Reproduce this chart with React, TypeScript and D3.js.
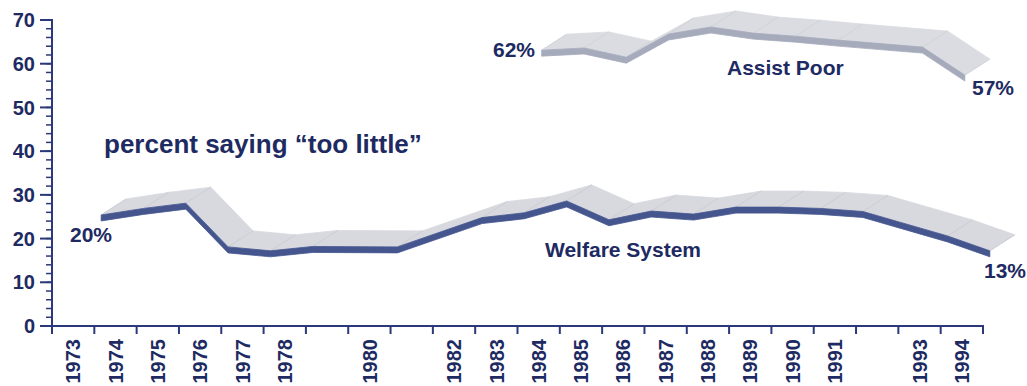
import React from "react";
import * as d3 from "d3";

// ---- data ----
const years = [1973, 1974, 1975, 1976, 1977, 1978, 1979, 1980, 1981, 1982, 1983, 1984, 1985, 1986, 1987, 1988, 1989, 1990, 1991, 1992, 1993, 1994];
const yearLabels = ["1973", "1974", "1975", "1976", "1977", "1978", "", "1980", "", "1982", "1983", "1984", "1985", "1986", "1987", "1988", "1989", "1990", "1991", "", "1993", "1994"];
const yTicks = [0, 10, 20, 30, 40, 50, 60, 70];
const yMinorTicks = d3.range(0, 71, 2);

const welfareYears = [1973, 1974, 1975, 1976, 1977, 1978, 1980, 1982, 1983, 1984, 1985, 1986, 1987, 1988, 1989, 1990, 1991, 1993, 1994];
const welfareValues = [25.4, 26.9, 28.1, 18.1, 17.2, 18.2, 18.1, 24.8, 25.9, 28.6, 24.3, 26.3, 25.6, 27.2, 27.2, 26.9, 26.2, 20.6, 17.2];

const assistYears = [1984, 1985, 1986, 1987, 1988, 1989, 1990, 1991, 1993, 1994];
const assistValues = [63.1, 63.6, 61.5, 66.8, 68.4, 67.0, 66.3, 65.4, 63.8, 57.4];

// ---- style ----
const W = 1027;
const H = 386;
const FONT = "'Liberation Sans', Arial, Helvetica, sans-serif";
const TEXT = "#1e2a62";
const AXIS = "#2b387a";
const DX = 25;
const DY = -16;

const x = d3.scaleBand<number>().domain(years).range([52, 983]).padding(0);
const y = d3.scaleLinear().domain([0, 70]).range([326, 20]);

type P = [number, number];

function Ribbon({ yrs, vals, shift, thick, face, top, seam }: { yrs: number[]; vals: number[]; shift: number; thick: number; face: string; top: string; seam: string }) {
  const front: P[] = yrs.map((yr, i) => [(x(yr) as number) + x.bandwidth() / 2 + shift, y(vals[i])]);
  const back: P[] = front.map(([px, py]) => [px + DX, py + DY]);
  const bottom: P[] = front.map(([px, py]) => [px, py + thick]);
  const quads = front.slice(0, -1).map((p, i) => [p, front[i + 1], back[i + 1], back[i]] as P[]);
  const facePoly = [...front, ...bottom.slice().reverse()];
  const line = d3.line();
  return (
    <g>
      {quads.map((q, i) => (
        <path key={"q" + i} d={line(q) + "Z"} fill={top} stroke={top} strokeWidth={0.8} />
      ))}
      {front.map((p, i) => (
        <line key={"s" + i} x1={p[0]} y1={p[1]} x2={back[i][0]} y2={back[i][1]} stroke={seam} strokeWidth={0.8} />
      ))}
      <path d={line(facePoly) + "Z"} fill={face} stroke={face} strokeWidth={0.8} />
    </g>
  );
}

export default function App() {
  const bw = x.bandwidth();
  const tickXs = [...years.map((yr) => x(yr) as number), (x(years[years.length - 1]) as number) + bw];
  return (
    <svg width={W} height={H} style={{ position: "absolute", left: 0, top: 0, background: "#fff" }} fontFamily={FONT}>
      <rect width={W} height={H} fill="#fff" />
      {/* ribbons */}
      <Ribbon yrs={assistYears} vals={assistValues} shift={3} thick={6} face="#a6abbc" top="#dbdce1" seam="#cdcfd6" />
      <Ribbon yrs={welfareYears} vals={welfareValues} shift={28} thick={6} face="#45568f" top="#d8d9df" seam="#c6c8d1" />

      {/* y axis */}
      <line x1={52} x2={52} y1={y(70) - 1} y2={334} stroke={AXIS} strokeWidth={2} />
      {yMinorTicks.map((t) => (
        <line key={"m" + t} x1={46} x2={52} y1={y(t)} y2={y(t)} stroke={AXIS} strokeWidth={1.5} />
      ))}
      {yTicks.map((t) => (
        <g key={"t" + t}>
          <line x1={40} x2={52} y1={y(t)} y2={y(t)} stroke={AXIS} strokeWidth={2} />
          <text x={35} y={y(t)} dy="0.36em" textAnchor="end" fontSize={20} fontWeight="bold" fill={TEXT}>
            {t}
          </text>
        </g>
      ))}

      {/* x axis */}
      <line x1={52} x2={984} y1={326} y2={326} stroke={AXIS} strokeWidth={2} />
      {tickXs.map((tx, i) => (
        <line key={"xt" + i} x1={tx} x2={tx} y1={326} y2={334} stroke={AXIS} strokeWidth={2} />
      ))}
      {years.map((yr, i) => (
        <text
          key={"xl" + yr}
          transform={`translate(${(x(yr) as number) + bw / 2},339) rotate(-90)`}
          dy="0.36em"
          textAnchor="end"
          fontSize={20}
          fontWeight="bold"
          fill={TEXT}
        >
          {yearLabels[i]}
        </text>
      ))}

      {/* annotations */}
      <text x={104} y={153} fontSize={26} fontWeight="bold" fill={TEXT}>
        percent saying “too little”
      </text>
      <text x={545} y={257} fontSize={21} fontWeight="bold" fill={TEXT}>
        Welfare System
      </text>
      <text x={727} y={75} fontSize={21} fontWeight="bold" fill={TEXT}>
        Assist Poor
      </text>
      <text x={70} y={242} fontSize={21} fontWeight="bold" fill={TEXT}>
        20%
      </text>
      <text x={984} y={278} fontSize={21} fontWeight="bold" fill={TEXT}>
        13%
      </text>
      <text x={493} y={57} fontSize={21} fontWeight="bold" fill={TEXT}>
        62%
      </text>
      <text x={972} y={95} fontSize={21} fontWeight="bold" fill={TEXT}>
        57%
      </text>
    </svg>
  );
}
